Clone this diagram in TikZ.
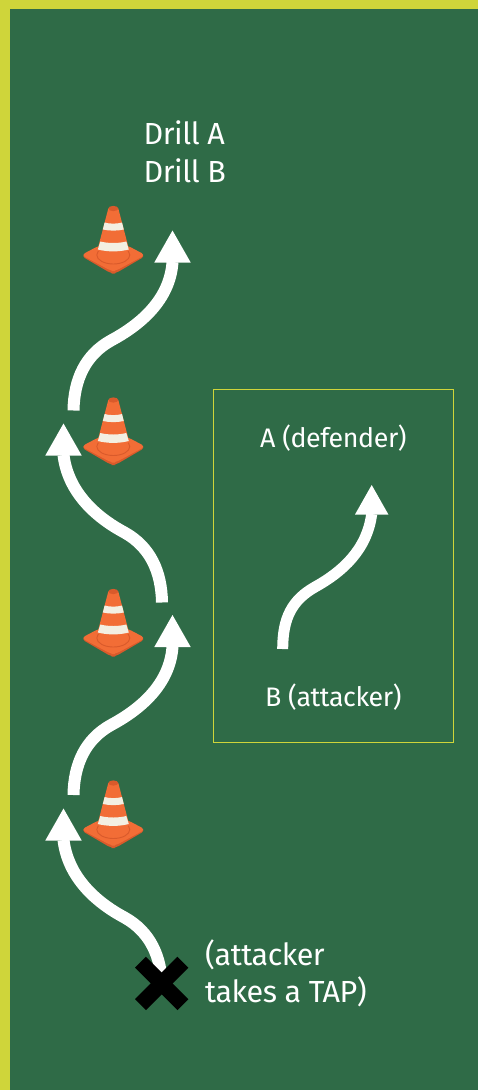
\documentclass[tikz,border=0pt]{standalone}
\usepackage{fontspec}
\setmainfont[LetterSpace=-1.5]{Fira Sans}
\definecolor{field}{HTML}{2F6B47}
\definecolor{edge}{HTML}{CFD53A}
\definecolor{coneor}{HTML}{F26D36}
\definecolor{conedk}{HTML}{D95A2B}
\definecolor{conest}{HTML}{F3EFE2}
\tikzset{
  x=1pt,y=-1pt,
  run/.style={draw=white,line width=12pt},
  head/.style={fill=white},
  label/.style={text=white,anchor=base west,inner sep=0pt,font=\fontsize{26.8}{27}\selectfont},
  biglabel/.style={label,font=\fontsize{30.5}{30}\selectfont},
  pics/cone/.style={code={
    \fill[conedk,rounded corners=4pt] (-32,47.5)--(-14,38)--(14,38)--(32,47.5)--(2,65)--(-2,65)--cycle;
    \fill[coneor,rounded corners=4pt] (-32,46.5)--(-14,37)--(14,37)--(32,46.5)--(2,62.5)--(-2,62.5)--cycle;
    \draw[conedk,line width=.9pt] (0,46.5) ellipse [x radius=16.5,y radius=9];
    \fill[coneor] (-5,0)--(5,0)--(16,42) .. controls (8,47) and (-8,47) .. (-16,42)--cycle;
    \fill[conedk] (0,0) ellipse [x radius=5,y radius=2.6];
    \fill[conest] (-8.7,14) .. controls (-4,15.5) and (4,15.5) .. (8.7,14)--(10.5,21) .. controls (4,22.5) and (-4,22.5) .. (-10.5,21)--cycle;
    \fill[conest] (-13,33) .. controls (-5,35) and (5,35) .. (13,33)--(15.5,41) .. controls (6,43.5) and (-6,43.5) .. (-15.5,41)--cycle;
  }}
}
\begin{document}
\begin{tikzpicture}
\useasboundingbox (0,0) rectangle (478,1090);
\fill[edge] (0,0) rectangle (478,1090);
\fill[field] (10,9) rectangle (478,1090);
\draw[edge,line width=1pt] (213,389) rectangle (453,742);
\foreach \n/\yy in {a/208.5,b/400,c/591.5,d/783} \pic (cone\n) at (113.3,\yy) {cone};
% arrows running from start to the base of the head
\coordinate (s4) at (73.5,410.5); \coordinate (m4) at (111,340.5); \coordinate (b4) at (172.5,262);
\coordinate (s3) at (162,602.5);  \coordinate (m3) at (124.5,532.5); \coordinate (b3) at (63.5,455);
\coordinate (s2) at (73.5,795);   \coordinate (m2) at (111,725);   \coordinate (b2) at (172.5,646.5);
\coordinate (s1) at (162,987.5);  \coordinate (m1) at (124.5,917.5); \coordinate (b1) at (63.5,840);
\coordinate (s5) at (282.7,649);  \coordinate (m5) at (315,587);   \coordinate (b5) at (371.7,514);
\draw[run] (s1) .. controls (161.5,957) and (150.5,932) .. (m1) .. controls (95.5,902) and (68,877) .. (b1);
\draw[run] (s2) .. controls (74,764.5) and (85,739.5) .. (m2) .. controls (140,709.5) and (170,684.5) .. (b2);
\draw[run] (s3) .. controls (161.5,572) and (150.5,547) .. (m3) .. controls (95.5,517) and (68,492) .. (b3);
\draw[run] (s4) .. controls (74,380) and (85,355) .. (m4) .. controls (140,325) and (170,300) .. (b4);
\draw[run,line width=11pt] (s5) .. controls (282.7,618) and (292,600) .. (m5) .. controls (342,572) and (367,550) .. (b5);
\foreach \c in {b1,b2,b3,b4} \fill[head] ([shift={(-18.2,0.5)}]\c) -- ([shift={(0,-31.5)}]\c) -- ([shift={(18.2,0.5)}]\c) -- cycle;
\fill[head] ([shift={(-16.7,0.5)}]b5) -- ([shift={(0,-29)}]b5) -- ([shift={(16.7,0.5)}]b5) -- cycle;
\coordinate (x) at (161.7,983.4);
\draw[black,line width=15.5pt] ([shift={(-21.2,-21.2)}]x) -- ([shift={(21.2,21.2)}]x);
\draw[black,line width=15.5pt] ([shift={(-21.2,21.2)}]x) -- ([shift={(21.2,-21.2)}]x);
\node[biglabel] (da) at (143.5,144.5) {Drill A};
\node[biglabel] (db) at (143.5,182) {Drill B};
\node[label] (lA) at (260,447) {A (defender)};
\node[label] (lB) at (265,706) {B (attacker)};
\node[biglabel] (t1a) at (205,965) {(attacker};
\node[biglabel] (t1b) at (205,1002) {takes a TAP)};
\end{tikzpicture}
\end{document}
